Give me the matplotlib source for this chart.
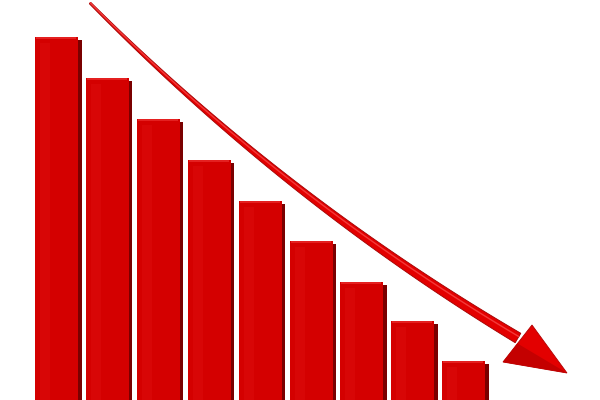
import matplotlib
matplotlib.use("Agg")
import matplotlib.pyplot as plt
from matplotlib.patches import Polygon
import numpy as np

# bar heights (pixels above the bottom edge)
bar_heights = [363, 322, 281, 240, 199, 159, 118, 79, 39]

# trend arrow: start, bend control and end of the shaft, then the head (x, height)
arrow_x = [90, 285, 518]
arrow_y = [397, 201, 62]
head_x = [503, 567, 532]
head_y = [38, 27, 75]

FACE = "#d40000"
SIDE = "#7a0000"
ARROW = "#e30000"

fig = plt.figure(figsize=(6, 4), dpi=100)
ax = fig.add_axes([0, 0, 1, 1])
ax.set_xlim(0, 600)
ax.set_ylim(0, 400)
ax.axis("off")

idx = np.arange(len(bar_heights))
left = 35 + 50.9 * idx
width = 43
heights = np.array(bar_heights)

# front face, darker side strip, faint highlight
ax.bar(left, heights, width=width, align="edge", color=FACE, zorder=2)
ax.bar(left + width, heights - 3, width=3.5, align="edge", color=SIDE, zorder=2)
ax.bar(left + 1, np.full(len(heights), 1.5), bottom=heights - 1.5, width=width - 3,
       align="edge", color="#e42020", zorder=3)
ax.bar(left + 5, heights - 6, width=10, align="edge", color="#d80606", zorder=2.5)

# tapered shaft of the arrow along a quadratic bezier
t = np.linspace(0, 1, 120)[:, None]
ctrl = np.column_stack([arrow_x, arrow_y]).astype(float)
curve = (1 - t) ** 2 * ctrl[0] + 2 * (1 - t) * t * ctrl[1] + t ** 2 * ctrl[2]
px, py = curve[:, 0], curve[:, 1]
dx = np.gradient(px)
dy = np.gradient(py)
norm = np.hypot(dx, dy)
nx, ny = -dy / norm, dx / norm
half = np.linspace(1.0, 5.5, len(px))
upper = np.column_stack([px + nx * half, py + ny * half])
lower = np.column_stack([px - nx * half, py - ny * half])
shaft = np.vstack([upper, lower[::-1]])
ax.add_patch(Polygon(shaft, closed=True, facecolor=ARROW, edgecolor="#a00000",
                     linewidth=0.6, zorder=4))
ax.plot(px + nx * half * 0.3, py + ny * half * 0.3, color="#f23a3a",
        linewidth=1.0, zorder=5, solid_capstyle="round")

head = np.column_stack([head_x, head_y])
ax.add_patch(Polygon(head, closed=True, facecolor=ARROW, edgecolor="#b00000",
                     linewidth=0.6, zorder=4))
ax.add_patch(Polygon([head[0], head[1], (head[0] + head[2]) / 2], closed=True,
                     facecolor="#c40000", edgecolor="none", zorder=4.5))

fig.savefig("out.png", dpi=100, facecolor="white")
